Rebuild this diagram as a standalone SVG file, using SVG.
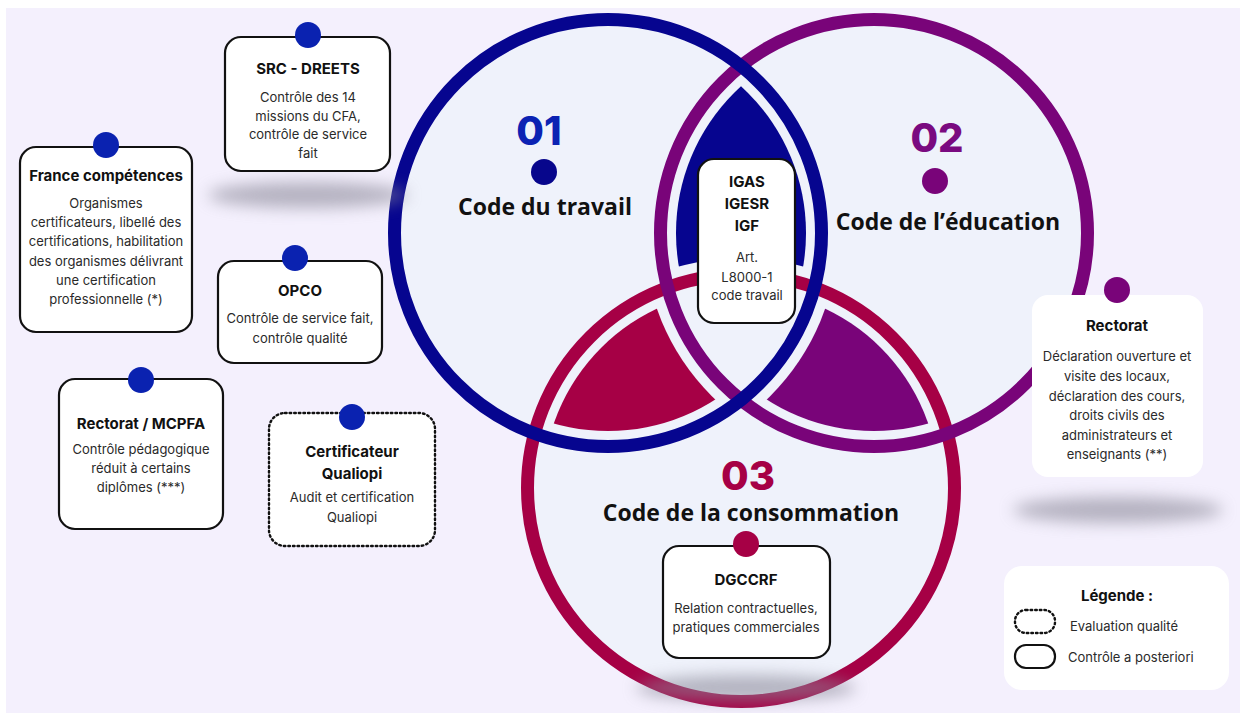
<svg xmlns="http://www.w3.org/2000/svg" width="1240" height="713" viewBox="0 0 1240 713">
<defs>
<style>
.ring{fill:none;stroke-width:13}
.box{fill:#fff;stroke:#111;stroke-width:2.2}
.dotted{fill:#fff;stroke:#111;stroke-width:2.4;stroke-dasharray:1.6 3;stroke-linecap:round}
.plain{fill:#fff}
.t{font-family:Inter,"Liberation Sans",sans-serif;font-size:15px;font-weight:700;fill:#111;text-anchor:middle;dominant-baseline:central}
.b{font-family:Inter,"Liberation Sans",sans-serif;font-size:13px;font-weight:400;fill:#2a2a2a;text-anchor:middle;dominant-baseline:central}
.num{font-family:Inter,"Liberation Sans",sans-serif;font-size:40px;font-weight:800;text-anchor:middle;dominant-baseline:central}
.code{font-family:"Open Sans","Noto Sans",sans-serif;font-size:23px;font-weight:700;fill:#111;text-anchor:middle;dominant-baseline:central}
.lg{font-family:Inter,"Liberation Sans",sans-serif;font-size:13px;fill:#2a2a2a;dominant-baseline:central}
.sh{fill:#8a8898;opacity:0.6;filter:url(#blur)}
.nd{fill:#0a22b0}
</style>
<filter id="blur" x="-50%" y="-200%" width="200%" height="500%"><feGaussianBlur stdDeviation="8"/></filter>
<clipPath id="c1in"><circle cx="608" cy="233" r="198"/></clipPath>
<clipPath id="c2in"><circle cx="874" cy="233" r="198"/></clipPath>
<clipPath id="c3in"><circle cx="741" cy="488" r="198"/></clipPath>
<mask id="m1out"><rect width="1240" height="713" fill="#fff"/><circle cx="608" cy="233" r="230" fill="#000"/></mask>
<mask id="m2out"><rect width="1240" height="713" fill="#fff"/><circle cx="874" cy="233" r="230" fill="#000"/></mask>
<mask id="m3out"><rect width="1240" height="713" fill="#fff"/><circle cx="741" cy="488" r="230" fill="#000"/></mask>
</defs>
<rect width="1240" height="713" fill="#fff"/>
<rect x="6" y="8" width="1234" height="705" fill="#f4f0fd"/>

<g id="venn">
<circle cx="608" cy="233" r="214" fill="#eff2fb"/>
<circle cx="874" cy="233" r="214" fill="#eff2fb"/>
<circle cx="741" cy="488" r="214" fill="#eff2fb"/>
<g clip-path="url(#c1in)"><rect width="1240" height="713" fill="#06058f" clip-path="url(#c2in)" mask="url(#m3out)"/></g>
<g clip-path="url(#c1in)"><rect width="1240" height="713" fill="#a60045" clip-path="url(#c3in)" mask="url(#m2out)"/></g>
<g clip-path="url(#c2in)"><rect width="1240" height="713" fill="#790479" clip-path="url(#c3in)" mask="url(#m1out)"/></g>
<circle class="ring" cx="741" cy="488" r="213.5" stroke="#a60045"/>
<circle class="ring" cx="874" cy="233" r="213.5" stroke="#790479"/>
<circle class="ring" cx="608" cy="233" r="213.5" stroke="#06058f"/>
</g>

<g id="shadows">
<ellipse class="sh" cx="308" cy="195" rx="100" ry="13"/>
<ellipse class="sh" cx="1118" cy="510" rx="105" ry="13"/>
<ellipse class="sh" cx="746" cy="688" rx="110" ry="13"/>
</g>

<g id="label-travail">
<text class="num" x="539" y="130" fill="#0b22b3">01</text>
<circle cx="544" cy="172" r="13" fill="#07068c"/>
<text class="code" x="545" y="206">Code du travail</text>
</g>
<g id="label-education">
<text class="num" x="937" y="137" fill="#7a0a80">02</text>
<circle cx="935" cy="181" r="13" fill="#790479"/>
<text class="code" x="948" y="221">Code de l’éducation</text>
</g>
<g id="label-consommation">
<text class="num" x="748" y="475" fill="#a60045">03</text>
<text class="code" x="751" y="512">Code de la consommation</text>
</g>

<g id="connectors"></g>

<g id="src-dreets">
<rect class="box" x="225" y="37" width="165" height="134" rx="16"/>
<circle class="nd" cx="308" cy="35" r="13"/>
<text class="t" x="308" y="68">SRC - DREETS</text>
<text class="b" x="308" y="97">Contrôle des 14</text>
<text class="b" x="308" y="116">missions du CFA,</text>
<text class="b" x="308" y="134">contrôle de service</text>
<text class="b" x="308" y="153">fait</text>
</g>

<g id="france-competences">
<rect class="box" x="20" y="147" width="172" height="185" rx="16"/>
<circle class="nd" cx="106" cy="145" r="13"/>
<text class="t" x="106" y="175">France compétences</text>
<text class="b" x="106" y="203">Organismes</text>
<text class="b" x="106" y="222">certificateurs, libellé des</text>
<text class="b" x="106" y="241">certifications, habilitation</text>
<text class="b" x="106" y="261">des organismes délivrant</text>
<text class="b" x="106" y="280">une certification</text>
<text class="b" x="106" y="299">professionnelle (*)</text>
</g>

<g id="opco">
<rect class="box" x="218" y="261" width="164" height="102" rx="16"/>
<circle class="nd" cx="295" cy="258" r="13"/>
<text class="t" x="300" y="290">OPCO</text>
<text class="b" x="300" y="318">Contrôle de service fait,</text>
<text class="b" x="300" y="338">contrôle qualité</text>
</g>

<g id="rectorat-mcpfa">
<rect class="box" x="59" y="379" width="164" height="150" rx="16"/>
<circle class="nd" cx="141" cy="380" r="13"/>
<text class="t" x="141" y="423">Rectorat / MCPFA</text>
<text class="b" x="141" y="449">Contrôle pédagogique</text>
<text class="b" x="141" y="468">réduit à certains</text>
<text class="b" x="141" y="487">diplômes (***)</text>
</g>

<g id="certificateur-qualiopi">
<rect class="dotted" x="269" y="413" width="166" height="133" rx="16"/>
<circle class="nd" cx="352" cy="417" r="13"/>
<text class="t" x="352" y="451">Certificateur</text>
<text class="t" x="352" y="473">Qualiopi</text>
<text class="b" x="352" y="497">Audit et certification</text>
<text class="b" x="352" y="517">Qualiopi</text>
</g>

<g id="igas">
<rect class="box" x="698" y="159" width="97" height="164" rx="16"/>
<text class="t" x="747" y="181">IGAS</text>
<text class="t" x="747" y="203">IGESR</text>
<text class="t" x="747" y="225">IGF</text>
<text class="b" x="747" y="257">Art.</text>
<text class="b" x="747" y="277">L8000-1</text>
<text class="b" x="747" y="295">code travail</text>
</g>

<g id="rectorat">
<rect class="plain" x="1032" y="295" width="171" height="182" rx="16"/>
<circle cx="1117" cy="290" r="13" fill="#790479"/>
<text class="t" x="1117" y="325">Rectorat</text>
<text class="b" x="1117" y="356">Déclaration ouverture et</text>
<text class="b" x="1117" y="376">visite des locaux,</text>
<text class="b" x="1117" y="396">déclaration des cours,</text>
<text class="b" x="1117" y="415">droits civils des</text>
<text class="b" x="1117" y="435">administrateurs et</text>
<text class="b" x="1117" y="454">enseignants (**)</text>
</g>

<g id="dgccrf">
<rect class="box" x="663" y="546" width="167" height="112" rx="16"/>
<circle cx="746" cy="544" r="13" fill="#a60045"/>
<text class="t" x="746" y="579">DGCCRF</text>
<text class="b" x="746" y="608">Relation contractuelles,</text>
<text class="b" x="746" y="627">pratiques commerciales</text>
</g>

<g id="legende">
<rect class="plain" x="1004" y="566" width="225" height="124" rx="18"/>
<text class="t" x="1117" y="595">Légende :</text>
<rect class="dotted" x="1015" y="610" width="40" height="23" rx="11"/>
<text class="lg" x="1070" y="626">Evaluation qualité</text>
<rect class="box" x="1015" y="645" width="40" height="23" rx="11"/>
<text class="lg" x="1068" y="657">Contrôle a posteriori</text>
</g>
</svg>
